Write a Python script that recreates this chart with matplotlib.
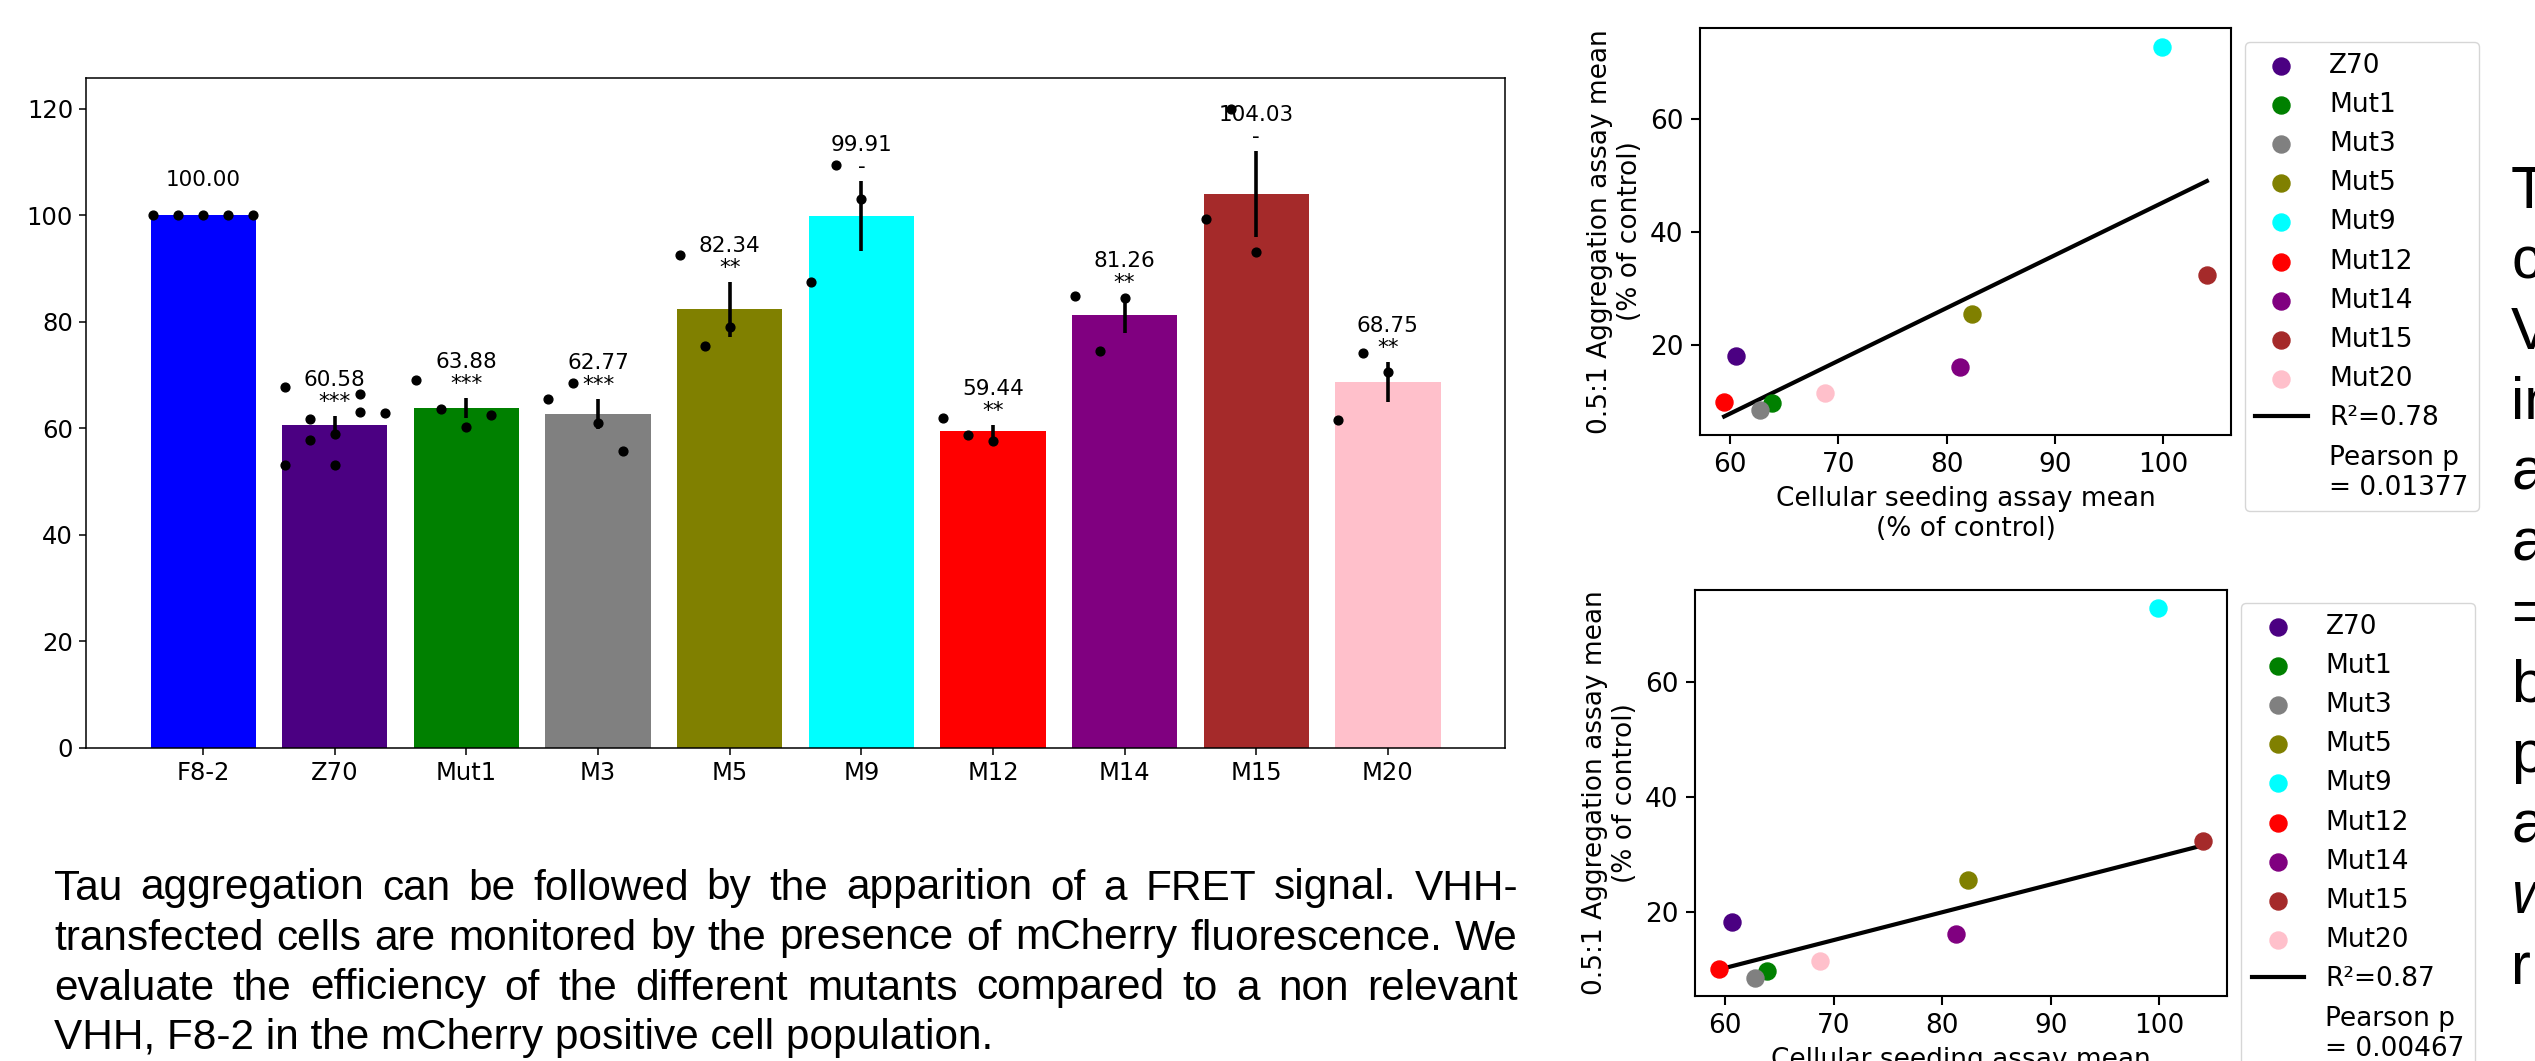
import numpy as np
import matplotlib
matplotlib.use("Agg")
import matplotlib.pyplot as plt

W, H, DPI = 2535, 1061, 100

# ---------------- data ----------------
bar_labels = ["F8-2", "Z70", "Mut1", "M3", "M5", "M9", "M12", "M14", "M15", "M20"]
bar_means = [100.00, 60.58, 63.88, 62.77, 82.34, 99.91, 59.44, 81.26, 104.03, 68.75]
bar_colors = ["blue", "indigo", "green", "gray", "olive", "cyan", "red", "purple", "brown", "pink"]
bar_signif = ["", "***", "***", "***", "**", "-", "**", "**", "-", "**"]

pts_F82 = [100, 100, 100, 100, 100]
pts_Z70 = [67.8, 53.1, 61.7, 57.9, 59.0, 53.1, 66.4, 63.1, 62.9]
pts_Mut1 = [69.0, 63.7, 60.2, 62.6]
pts_M3 = [65.6, 68.6, 61.0, 55.7]
pts_M5 = [92.5, 75.4, 79.1]
pts_M9 = [87.4, 109.4, 103.1]
pts_M12 = [61.9, 58.7, 57.7]
pts_M14 = [84.8, 74.5, 84.4]
pts_M15 = [99.3, 119.9, 93.1]
pts_M20 = [61.6, 74.2, 70.5]
bar_points = [pts_F82, pts_Z70, pts_Mut1, pts_M3, pts_M5, pts_M9, pts_M12, pts_M14, pts_M15, pts_M20]

sc_labels = ["Z70", "Mut1", "Mut3", "Mut5", "Mut9", "Mut12", "Mut14", "Mut15", "Mut20"]
sc_seeding = [60.58, 63.88, 62.77, 82.34, 99.91, 59.44, 81.26, 104.03, 68.75]
sc_aggreg = [18.2, 9.8, 8.6, 25.5, 72.8, 10.0, 16.1, 32.4, 11.5]
sc_colors = ["indigo", "green", "gray", "olive", "cyan", "red", "purple", "brown", "pink"]

fit1_r_label = "R\u00b2=0.78"
fit1_p_label = "Pearson p\n= 0.01377"
fit2_r_label = "R\u00b2=0.87"
fit2_p_label = "Pearson p\n= 0.00467"
fit2_excluded = ["Mut9"]

xlabel_sc = "Cellular seeding assay mean\n(% of control)"
ylabel_sc = "0.5:1 Aggregation assay mean\n(% of control)"

para_lines = [
    "Tau aggregation can be followed by the apparition of a FRET signal. VHH-",
    "transfected cells are monitored by the presence of mCherry fluorescence. We",
    "evaluate the efficiency of the different mutants compared to a non relevant",
    "VHH, F8-2 in the mCherry positive cell population.",
]
side_lines = ["T", "c", "V", "in", "a", "a", "=", "b", "p", "a", "w", "r"]
side_italic = [False] * 10 + [True, False]

# ---------------- figure ----------------
fig = plt.figure(figsize=(W / DPI, H / DPI), dpi=DPI, facecolor="white")


def fig_rect(x0, y0, x1, y1):
    return [x0 / W, 1 - y1 / H, (x1 - x0) / W, (y1 - y0) / H]


# ---- bar chart ----
ax = fig.add_axes(fig_rect(86, 77.5, 1505, 747.8))
x = np.arange(len(bar_labels))
ax.bar(x, bar_means, width=0.8, color=bar_colors)
for i, pts in enumerate(bar_points):
    pts = np.asarray(pts, dtype=float)
    n = len(pts)
    per = int(np.ceil(n / 5))
    offs = -0.38 + 0.19 * (np.arange(n) // per)
    ax.scatter(x[i] + offs, pts, s=40, color="black", zorder=3)
    sem = pts.std(ddof=1) / np.sqrt(n) if n > 1 else 0.0
    ax.errorbar(x[i], bar_means[i], yerr=sem, color="black", lw=2.6, capsize=0, zorder=4)
    top = bar_means[i] + sem
    ax.text(x[i], top + 5.6, f"{bar_means[i]:.2f}", ha="center", va="baseline", fontsize=15.5)
    if bar_signif[i]:
        ax.text(x[i], top + 1.5, bar_signif[i], ha="center", va="baseline", fontsize=15.5)
ax.set_xticks(x)
ax.set_xticklabels(bar_labels)
ax.set_yticks(np.arange(0, 121, 20))
ax.tick_params(labelsize=17.5, length=4.8, width=1.1, pad=4.5)
for sp in ax.spines.values():
    sp.set_linewidth(1.1)


# ---- scatter plots ----
def scatter_panel(rect, r_label, p_label, excluded, legend_xy):
    a = fig.add_axes(fig_rect(*rect))
    for lab, xs, ys, c in zip(sc_labels, sc_seeding, sc_aggreg, sc_colors):
        a.scatter(xs, ys, s=150, color=c, label=lab, zorder=3)
    keep = [i for i, l in enumerate(sc_labels) if l not in excluded]
    xf = np.array(sc_seeding)[keep]
    yf = np.array(sc_aggreg)[keep]
    k, b = np.polyfit(xf, yf, 1)
    xl = np.array([xf.min(), xf.max()])
    a.plot(xl, k * xl + b, color="black", lw=3, label=r_label)
    a.plot([], [], " ", label=p_label)
    a.set_xticks([60, 70, 80, 90, 100])
    a.set_yticks([20, 40, 60])
    a.tick_params(labelsize=19, length=6.6, width=1.5, pad=5.5)
    for sp in a.spines.values():
        sp.set_linewidth(1.5)
    a.set_xlabel(xlabel_sc, fontsize=19, labelpad=6)
    a.set_ylabel(ylabel_sc, fontsize=19, labelpad=5)
    a.legend(loc="upper left", bbox_to_anchor=(legend_xy[0] / W, 1 - legend_xy[1] / H),
             bbox_transform=fig.transFigure, borderaxespad=0, fontsize=19)
    return a


scatter_panel((1700, 28, 2231, 435), fit1_r_label, fit1_p_label, [], (2244.5, 42))
scatter_panel((1695, 590, 2227, 996), fit2_r_label, fit2_p_label, fit2_excluded, (2241, 603))

# ---- paragraph (justified) ----
renderer = fig.canvas.get_renderer()
para_fs = 30.5
para_family = "Liberation Sans"
px0, px1 = 54, 1518
base0, step = 899.5, 50.0
for li, line in enumerate(para_lines):
    yb = 1 - (base0 + li * step) / H
    if li == len(para_lines) - 1:
        fig.text(px0 / W, yb, line, fontsize=para_fs, family=para_family, va="baseline", ha="left")
        continue
    words = line.split(" ")
    texts = [fig.text(0, yb, w, fontsize=para_fs, family=para_family, va="baseline", ha="left")
             for w in words]
    widths = [t.get_window_extent(renderer).width for t in texts]
    gap = (px1 - px0 - sum(widths)) / (len(words) - 1)
    cur = px0
    for t, wd in zip(texts, widths):
        t.set_x(cur / W)
        cur += wd + gap

# ---- clipped right-hand text column ----
side_base0, side_step = 208, 70.5
for li, (s, it) in enumerate(zip(side_lines, side_italic)):
    fig.text(2511 / W, 1 - (side_base0 + li * side_step) / H, s, fontsize=43,
             family="Liberation Sans", style="italic" if it else "normal",
             va="baseline", ha="left")

fig.savefig("out.png", dpi=DPI, facecolor="white")
